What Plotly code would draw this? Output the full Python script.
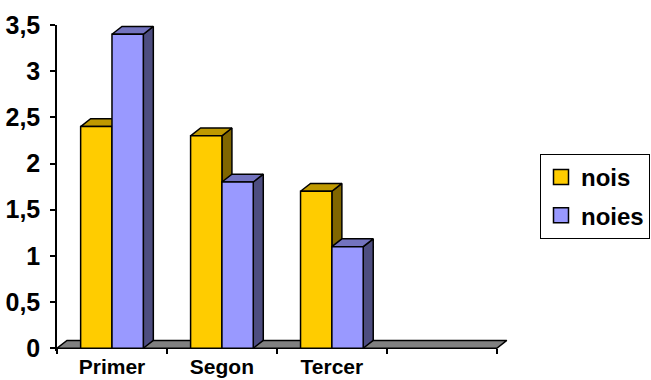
import plotly.graph_objects as go

# Chart data
categories = ["Primer", "Segon", "Tercer", ""]
nois = [2.4, 2.3, 1.7]
noies = [3.4, 1.8, 1.1]
y_ticks = [0, 0.5, 1, 1.5, 2, 2.5, 3, 3.5]
y_tick_labels = ["0", "0,5", "1", "1,5", "2", "2,5", "3", "3,5"]

# Geometry of the pseudo-3D columns (in axis units)
BAR_W = 0.285      # width of one column's front face
DEPTH_X = 0.091    # horizontal depth offset
DEPTH_Y = 0.085    # vertical depth offset
X_MIN, X_MAX = -0.5, 3.62
Y_MIN, Y_MAX = -0.03, 3.5

# name, values, front colour, top colour, side colour, offset from category centre
series = [
    ("nois", nois, "#FFCC00", "#BF9900", "#806600", -BAR_W),
    ("noies", noies, "#9999FF", "#7373BF", "#4D4D80", 0.0),
]

FONT = "Liberation Sans, Arial, sans-serif"


def face(xs, ys, fill):
    return go.Scatter(
        x=xs + [xs[0]], y=ys + [ys[0]], mode="lines", fill="toself",
        fillcolor=fill, line=dict(color="black", width=1.5),
        hoverinfo="skip", showlegend=False,
    )


fig = go.Figure()

# grey floor under the columns
n_cat = len(categories)
fx0, fx1 = -0.5, n_cat - 0.5
fig.add_trace(face([fx0, fx1, fx1 + DEPTH_X, fx0 + DEPTH_X],
                   [0, 0, DEPTH_Y, DEPTH_Y], "#808080"))

# columns: side, top, then front face for each series in each category
for i in range(len(nois)):
    for name, vals, front, top, side, off in series:
        v = vals[i]
        x0 = i + off
        x1 = x0 + BAR_W
        fig.add_trace(face([x1, x1 + DEPTH_X, x1 + DEPTH_X, x1],
                           [0, DEPTH_Y, v + DEPTH_Y, v], side))
        fig.add_trace(face([x0, x1, x1 + DEPTH_X, x0 + DEPTH_X],
                           [v, v, v + DEPTH_Y, v + DEPTH_Y], top))
        fig.add_trace(face([x0, x1, x1, x0], [0, 0, v, v], front))

# legend entries
for name, vals, front, top, side, off in series:
    fig.add_trace(go.Scatter(
        x=[None], y=[None], mode="markers", name=name, legendgroup=name,
        xaxis="x2",
        marker=dict(symbol="square", size=15, color=front,
                    line=dict(color="black", width=1.5)),
    ))

zero_pos = (0 - Y_MIN) / (Y_MAX - Y_MIN)

fig.update_layout(
    width=651, height=380,
    margin=dict(l=57, r=141, t=25, b=29, autoexpand=False),
    paper_bgcolor="white", plot_bgcolor="white",
    font=dict(family=FONT, color="black"),
    showlegend=True,
    xaxis=dict(
        range=[X_MIN, X_MAX], tickvals=list(range(n_cat)), ticktext=categories,
        ticks="", showline=False, showgrid=False, zeroline=False,
        ticklabelstandoff=1,
        tickfont=dict(family=FONT, size=21, weight="bold", color="black"),
        automargin=False, fixedrange=True,
    ),
    xaxis2=dict(
        range=[X_MIN, X_MAX], overlaying="x", anchor="free", position=zero_pos,
        side="bottom",
        tickvals=[k - 0.5 for k in range(n_cat + 1)],
        ticks="outside", ticklen=5, tickwidth=1.5, tickcolor="black",
        showticklabels=False, showline=False, showgrid=False, zeroline=False,
        automargin=False, fixedrange=True,
    ),
    yaxis=dict(
        range=[Y_MIN, Y_MAX], tickvals=y_ticks, ticktext=y_tick_labels,
        ticks="outside", ticklen=5, tickwidth=1.5, tickcolor="black",
        showline=True, linecolor="black", linewidth=1.5,
        showgrid=False, zeroline=False, ticklabelstandoff=5,
        tickfont=dict(family=FONT, size=25, weight="bold", color="black"),
        automargin=False, fixedrange=True,
    ),
    legend=dict(
        x=(540 - 57) / 453, y=(351 - 154) / 326, xanchor="left", yanchor="top",
        bgcolor="white", bordercolor="black", borderwidth=1,
        font=dict(family=FONT, size=24, weight="bold", color="black"),
        traceorder="grouped", tracegroupgap=4,
    ),
)

fig.write_html("out.html")
